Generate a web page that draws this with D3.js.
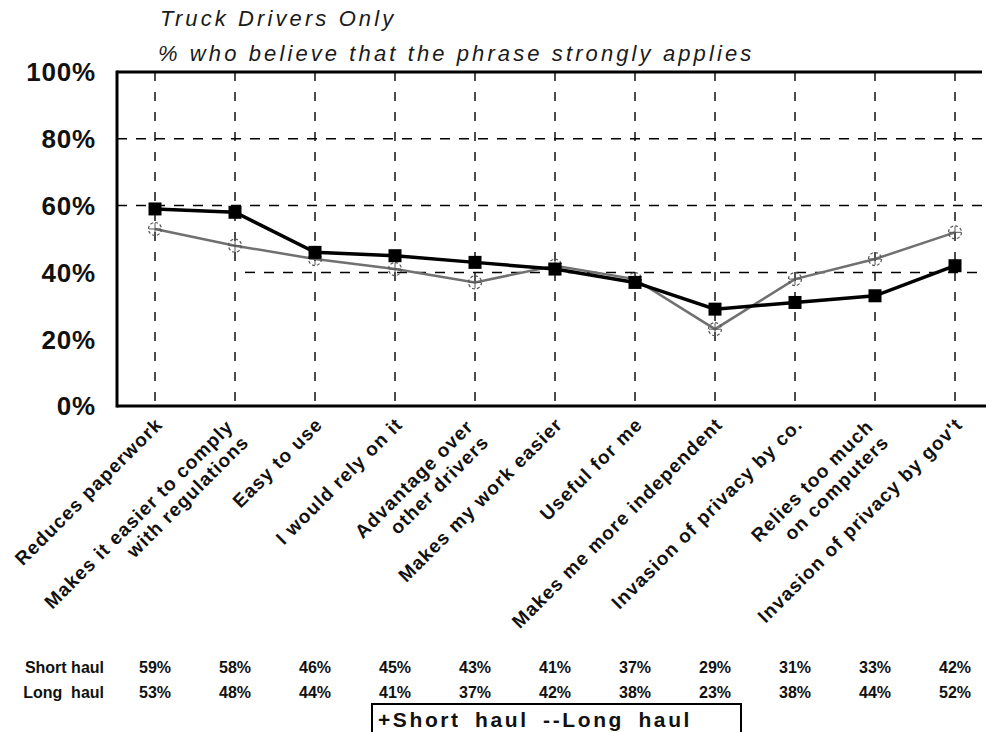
<!DOCTYPE html>
<html>
<head>
<meta charset="utf-8">
<script src="https://cdn.jsdelivr.net/npm/d3@7"></script>
<style>
  html, body { margin: 0; padding: 0; background: #fff; }
  svg { display: block; }
</style>
</head>
<body>
<svg id="chart" width="986" height="732"></svg>
<script>
const categories = [
  "Reduces paperwork",
  "Makes it easier to comply\nwith regulations",
  "Easy to use",
  "I would rely on it",
  "Advantage over\nother drivers",
  "Makes my work easier",
  "Useful for me",
  "Makes me more independent",
  "Invasion of privacy by co.",
  "Relies too much\non computers",
  "Invasion of privacy by gov't"
];
const shortHaul = [59, 58, 46, 45, 43, 41, 37, 29, 31, 33, 42];
const longHaul  = [53, 48, 44, 41, 37, 42, 38, 23, 38, 44, 52];
const yTicks = [0, 20, 40, 60, 80, 100];
const gridValues = [80, 60, 40];
const seriesNames = ["Short haul", "Long haul"];
const titleLines = ["Truck Drivers Only", "% who believe that the phrase strongly applies"];
const legendText = "+Short haul --Long haul";

const svg = d3.select("#chart");
const W = 986, H = 732;
const plot = { left: 117, right: 982, top: 72, bottom: 406 };

const x = d3.scalePoint().domain(d3.range(categories.length)).range([155, 955]);
const y = d3.scaleLinear().domain([0, 100]).range([plot.bottom, plot.top]);

// Title
const title = svg.append("g").attr("font-family", "Liberation Sans, Arial, sans-serif")
  .attr("font-style", "italic").attr("font-size", 22).attr("fill", "#1a1a1a")
  .attr("letter-spacing", "3.1px");
title.append("text").attr("x", 160).attr("y", 26).text(titleLines[0]);
title.append("text").attr("x", 158).attr("y", 61).text(titleLines[1]);

// Gridlines - horizontal dashed
svg.append("g").selectAll("line").data(gridValues).join("line")
  .attr("x1", d => d === 40 ? x(1) + 10 : plot.left)
  .attr("x2", W)
  .attr("y1", d => y(d)).attr("y2", d => y(d))
  .attr("stroke", "#000").attr("stroke-width", 1.5)
  .attr("stroke-dasharray", "10,9");

// Gridlines - vertical dashed at categories
svg.append("g").selectAll("line").data(d3.range(categories.length)).join("line")
  .attr("x1", d => x(d)).attr("x2", d => x(d))
  .attr("y1", plot.top).attr("y2", plot.bottom)
  .attr("stroke", "#000").attr("stroke-width", 1.4)
  .attr("stroke-dasharray", "9,11");

// Frame
svg.append("line").attr("x1", plot.left).attr("x2", plot.right).attr("y1", plot.top).attr("y2", plot.top)
  .attr("stroke", "#000").attr("stroke-width", 3);
svg.append("line").attr("x1", plot.left).attr("x2", W).attr("y1", plot.bottom).attr("y2", plot.bottom)
  .attr("stroke", "#000").attr("stroke-width", 3);
svg.append("line").attr("x1", plot.left).attr("x2", plot.left).attr("y1", plot.top - 1.5).attr("y2", plot.bottom + 1.5)
  .attr("stroke", "#000").attr("stroke-width", 3);

// Y axis labels
svg.append("g").selectAll("text").data(yTicks).join("text")
  .attr("x", 96).attr("y", d => y(d))
  .attr("dy", "0.36em")
  .attr("text-anchor", "end")
  .attr("font-family", "Liberation Sans, Arial, sans-serif")
  .attr("font-weight", "bold").attr("font-size", 26)
  .attr("letter-spacing", "0.8px")
  .attr("fill", "#111")
  .text(d => d + "%");

// Category labels, rotated
const catG = svg.append("g").attr("font-family", "Liberation Sans, Arial, sans-serif")
  .attr("font-weight", "bold").attr("font-size", 19).attr("fill", "#111")
  .attr("letter-spacing", "1.1px");
categories.forEach((c, i) => {
  const lines = c.split("\n");
  const multi = lines.length > 1;
  const t = catG.append("text")
    .attr("text-anchor", "end")
    .attr("transform", `translate(${x(i) + 4},${plot.bottom + 15}) rotate(-45)`);
  lines.forEach((ln, j) => {
    t.append("tspan").attr("x", multi ? -8 : 0)
      .attr("y", (j - (lines.length - 1) / 2) * 22 + (multi ? 6 : 0))
      .attr("dy", "0.35em")
      .text(ln);
  });
});

// Lines
const line = d3.line().x((d, i) => x(i)).y(d => y(d));
svg.append("path").datum(longHaul).attr("d", line)
  .attr("fill", "none").attr("stroke", "#707070").attr("stroke-width", 2.5);

const longG = svg.append("g").selectAll("g").data(longHaul).join("g")
  .attr("transform", (d, i) => `translate(${x(i)},${y(d)})`);
longG.append("circle").attr("r", 6.5).attr("fill", "none").attr("stroke", "#555").attr("stroke-width", 1.2)
  .attr("stroke-dasharray", "3,2");
longG.append("line").attr("x1", -6).attr("x2", 6).attr("stroke", "#555").attr("stroke-width", 1);
longG.append("line").attr("y1", -6).attr("y2", 6).attr("stroke", "#555").attr("stroke-width", 1);

svg.append("path").datum(shortHaul).attr("d", line)
  .attr("fill", "none").attr("stroke", "#000").attr("stroke-width", 3.5);
svg.append("g").selectAll("rect").data(shortHaul).join("rect")
  .attr("x", (d, i) => x(i) - 6.5).attr("y", d => y(d) - 6.5)
  .attr("width", 13).attr("height", 13).attr("fill", "#000");

// Data table
const tableG = svg.append("g").attr("font-family", "Liberation Sans Narrow, Arial Narrow, Liberation Sans, sans-serif")
  .attr("font-weight", "bold").attr("font-size", 16).attr("fill", "#111");
[shortHaul, longHaul].forEach((vals, r) => {
  const yy = 673 + r * 25;
  tableG.append("text").attr("x", 104).attr("y", yy).attr("text-anchor", "end")
    .attr("xml:space", "preserve")
    .text(r === 0 ? seriesNames[0] : "Long  haul");
  tableG.selectAll(null).data(vals).join("text")
    .attr("x", (d, i) => x(i)).attr("y", yy).attr("text-anchor", "middle")
    .text(d => d + "%");
});

// Legend box
svg.append("path")
  .attr("d", "M372,732 V704 H741 V732")
  .attr("fill", "none").attr("stroke", "#000").attr("stroke-width", 2);
svg.append("text").attr("x", 535).attr("y", 727).attr("text-anchor", "middle")
  .attr("font-family", "Liberation Sans, Arial, sans-serif")
  .attr("font-weight", "bold").attr("font-size", 21)
  .attr("letter-spacing", "2.6px").attr("word-spacing", "6px")
  .attr("fill", "#111")
  .text(legendText);
</script>
</body>
</html>
